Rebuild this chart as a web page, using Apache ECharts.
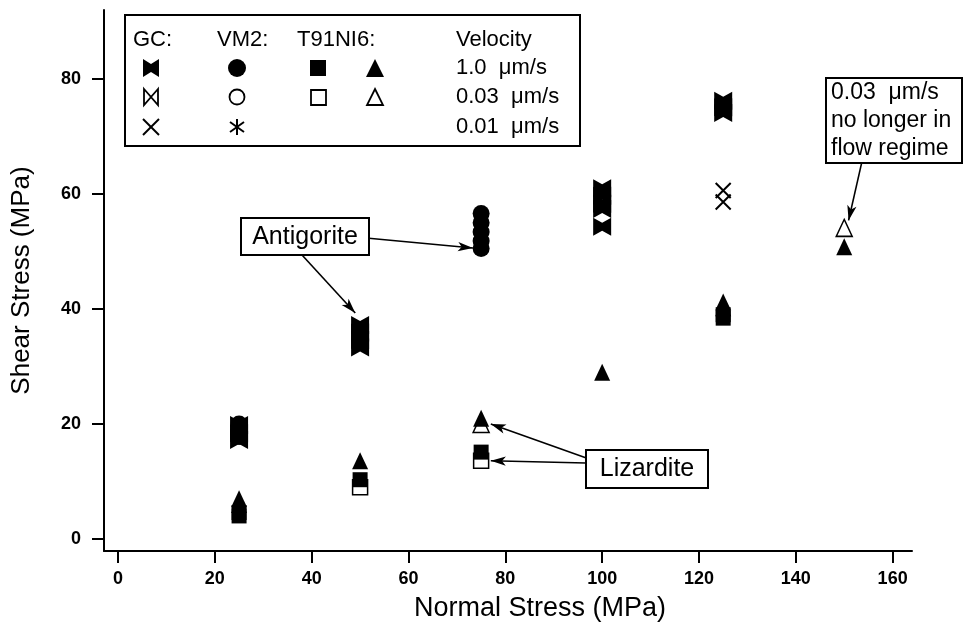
<!DOCTYPE html>
<html>
<head>
<meta charset="utf-8">
<script src="https://cdn.jsdelivr.net/npm/echarts/dist/echarts.min.js"></script>
<style>html,body{margin:0;padding:0;background:#fff;}#c{width:965px;height:635px;}</style>
</head>
<body>
<div id="c"></div>
<script>
// ---- data ----
var xTicks = [0, 20, 40, 60, 80, 100, 120, 140, 160];
var yTicks = [0, 20, 40, 60, 80];
var gcFast = [[25,19.8],[25,18.4],[25,17.2],[50,37.2],[50,35.9],[50,34.6],[50,33.3],[100,61.0],[100,59.7],[100,58.3],[100,57.4],[100,54.3],[125,76.2],[125,75.1],[125,74.1]];
var gcMid = [];
var gcSlow = [[125,60.6],[125,58.6]];
var vmFast = [[25,20.0],[25,18.6],[25,17.8],[50,35.0],[75,56.6],[75,55.0],[75,53.4],[75,51.8],[75,50.5]];
var vmMid = [];
var vmSlow = [];
var sqFast = [[25,4.6],[25,4.0],[50,10.3],[75,15.1],[125,39.0],[125,38.4]];
var sqMid = [[50,9.0],[75,13.6]];
var triFast = [[25,7.0],[25,6.0],[50,13.6],[75,21.0],[100,29.0],[125,41.2],[125,40.2],[150,50.8]];
var triMid = [[75,20.0],[150,54.1]];
var velocities = ['1.0  \u03bcm/s', '0.03  \u03bcm/s', '0.01  \u03bcm/s'];
var arrows = [
  [[51.8,52.3],[73.3,50.6]],
  [[38.0,49.4],[49.0,39.3]],
  [[96.6,14.1],[77.0,20.0]],
  [[96.6,13.2],[77.0,13.6]],
  [[153.6,65.4],[150.9,55.4]]
];

var FONT = 'Liberation Sans';
var BOW = 'path://M0,0L9,5L18,0L18,18L9,13L0,18Z';
var OPENBOW = 'path://M0,0L9,9L0,18ZM18,0L9,9L18,18Z';
var CROSS = 'path://M0,0L16,16M16,0L0,16';
var STAR = 'path://M8,0L8,16M1,3L15,13M15,3L1,13';

function sc(name, data, symbol, size, fill, stroke, bw) {
  return {
    type: 'scatter', name: name, data: data, symbol: symbol, symbolSize: size,
    itemStyle: { color: fill, borderColor: stroke || '#000', borderWidth: bw || 0, opacity: 1 },
    emphasis: { disabled: true }, silent: true
  };
}

var chart = echarts.init(document.getElementById('c'), null, { renderer: 'canvas' });

function txt(t, x, y, size, opts) {
  var s = { text: t, font: size + 'px ' + FONT, fill: '#000', textVerticalAlign: 'middle' };
  if (opts) for (var k in opts) s[k] = opts[k];
  return { type: 'text', x: x, y: y, style: s, z: 11 };
}

function legendGraphics() {
  var g = [];
  g.push({ type: 'rect', shape: { x: 125, y: 15, width: 455, height: 131 }, style: { fill: '#fff', stroke: '#000', lineWidth: 2 }, z: 10 });
  var heads = [['GC:', 133], ['VM2:', 217], ['T91NI6:', 297], ['Velocity', 456]];
  heads.forEach(function (h) { g.push(txt(h[0], h[1], 40, 22)); });
  var rows = [68, 97, 127];
  rows.forEach(function (y, i) { g.push(txt(velocities[i], 456, y, 22)); });
  // GC symbols
  var gx = 151;
  g.push({ type: 'polygon', shape: { points: [[gx-8,59],[gx,64],[gx+8,59],[gx+8,77],[gx,72],[gx-8,77]] }, style: { fill: '#000' }, z: 11 });
  g.push({ type: 'polygon', shape: { points: [[gx-7,89],[gx,97],[gx-7,105]] }, style: { fill: '#fff', stroke: '#000', lineWidth: 1.8 }, z: 11 });
  g.push({ type: 'polygon', shape: { points: [[gx+7,89],[gx,97],[gx+7,105]] }, style: { fill: '#fff', stroke: '#000', lineWidth: 1.8 }, z: 11 });
  g.push({ type: 'line', shape: { x1: gx-8, y1: 119, x2: gx+8, y2: 135 }, style: { stroke: '#000', lineWidth: 2 }, z: 11 });
  g.push({ type: 'line', shape: { x1: gx+8, y1: 119, x2: gx-8, y2: 135 }, style: { stroke: '#000', lineWidth: 2 }, z: 11 });
  // VM2 symbols
  var vx = 237;
  g.push({ type: 'circle', shape: { cx: vx, cy: 68, r: 9 }, style: { fill: '#000' }, z: 11 });
  g.push({ type: 'circle', shape: { cx: vx, cy: 97, r: 7.5 }, style: { fill: '#fff', stroke: '#000', lineWidth: 1.8 }, z: 11 });
  g.push({ type: 'line', shape: { x1: vx, y1: 119, x2: vx, y2: 135 }, style: { stroke: '#000', lineWidth: 2 }, z: 11 });
  g.push({ type: 'line', shape: { x1: vx-7, y1: 122, x2: vx+7, y2: 132 }, style: { stroke: '#000', lineWidth: 2 }, z: 11 });
  g.push({ type: 'line', shape: { x1: vx+7, y1: 122, x2: vx-7, y2: 132 }, style: { stroke: '#000', lineWidth: 2 }, z: 11 });
  // squares
  var sx = 318;
  g.push({ type: 'rect', shape: { x: sx-8, y: 60, width: 16, height: 16 }, style: { fill: '#000' }, z: 11 });
  g.push({ type: 'rect', shape: { x: sx-7, y: 90, width: 15, height: 15 }, style: { fill: '#fff', stroke: '#000', lineWidth: 1.8 }, z: 11 });
  // triangles
  var tx = 375;
  g.push({ type: 'polygon', shape: { points: [[tx,59],[tx+9,77],[tx-9,77]] }, style: { fill: '#000' }, z: 11 });
  g.push({ type: 'polygon', shape: { points: [[tx,89],[tx+8,105],[tx-8,105]] }, style: { fill: '#fff', stroke: '#000', lineWidth: 1.8 }, z: 11 });
  return g;
}

function annotationGraphics() {
  var g = [];
  g.push({ type: 'rect', shape: { x: 241, y: 218, width: 128, height: 37 }, style: { fill: '#fff', stroke: '#000', lineWidth: 2 }, z: 10 });
  g.push(txt('Antigorite', 305, 237, 25, { textAlign: 'center' }));
  g.push({ type: 'rect', shape: { x: 586, y: 450, width: 122, height: 38 }, style: { fill: '#fff', stroke: '#000', lineWidth: 2 }, z: 10 });
  g.push(txt('Lizardite', 647, 469, 25, { textAlign: 'center' }));
  g.push({ type: 'rect', shape: { x: 826, y: 78, width: 136, height: 85 }, style: { fill: '#fff', stroke: '#000', lineWidth: 2 }, z: 10 });
  g.push({ type: 'text', x: 831, y: 79, style: { text: '0.03  \u03bcm/s\nno longer in\nflow regime', font: '23px ' + FONT, lineHeight: 28, fill: '#000' }, z: 11 });
  return g;
}

var series = [
  sc('GC 0.03', gcMid, OPENBOW, [18, 18], '#fff', '#000', 1.5),
  sc('VM2 0.03', vmMid, 'circle', 15, '#fff', '#000', 1.5),
  sc('T91NI6 sq 0.03', sqMid, 'rect', 15, '#fff', '#000', 1.5),
  sc('T91NI6 tri 0.03', triMid, 'triangle', [16, 17], '#fff', '#000', 1.5),
  sc('GC 1.0', gcFast, BOW, [18, 18], '#000'),
  sc('VM2 1.0', vmFast, 'circle', 17, '#000'),
  sc('T91NI6 sq 1.0', sqFast, 'rect', 15, '#000'),
  sc('T91NI6 tri 1.0', triFast, 'triangle', [16, 17], '#000'),
  sc('GC 0.01', gcSlow, CROSS, 15, 'transparent', '#000', 2),
  sc('VM2 0.01', vmSlow, STAR, 15, 'transparent', '#000', 2),
  {
    type: 'scatter', name: 'arrows', data: [], silent: true,
    markLine: {
      silent: true, animation: false,
      symbol: ['none', 'arrow'], symbolSize: [7, 15],
      label: { show: false },
      lineStyle: { color: '#000', width: 1.6, type: 'solid' },
      emphasis: { disabled: true },
      data: arrows.map(function (a) { return [{ coord: a[0] }, { coord: a[1] }]; })
    }
  }
];

chart.setOption({
  animation: false,
  backgroundColor: '#fff',
  grid: { left: 104, right: 53, top: 10, bottom: 84, containLabel: false, outerBoundsMode: 'none' },
  xAxis: {
    type: 'value', min: -2.9, max: 164,
    name: 'Normal Stress (MPa)', nameLocation: 'middle', nameGap: 44,
    nameTextStyle: { fontFamily: FONT, fontSize: 27, color: '#000', padding: [0, 0, 0, 64] },
    axisLine: { show: true, onZero: false, lineStyle: { color: '#000', width: 2 } },
    axisTick: { show: true, length: 12, customValues: xTicks, lineStyle: { color: '#000', width: 2 } },
    axisLabel: { customValues: xTicks, margin: 19, fontFamily: FONT, fontSize: 18, color: '#000', fontWeight: 'bold' },
    splitLine: { show: false }
  },
  yAxis: {
    type: 'value', min: -2.1, max: 92,
    name: 'Shear Stress (MPa)', nameLocation: 'middle', nameGap: 69, nameRotate: 90,
    nameTextStyle: { fontFamily: FONT, fontSize: 26, color: '#000' },
    axisLine: { show: true, onZero: false, lineStyle: { color: '#000', width: 2 } },
    axisTick: { show: true, length: 12, customValues: yTicks, lineStyle: { color: '#000', width: 2 } },
    axisLabel: { customValues: yTicks, margin: 23, fontFamily: FONT, fontSize: 18, color: '#000', fontWeight: 'bold' },
    splitLine: { show: false }
  },
  series: series,
  graphic: legendGraphics().concat(annotationGraphics())
});
</script>
</body>
</html>
